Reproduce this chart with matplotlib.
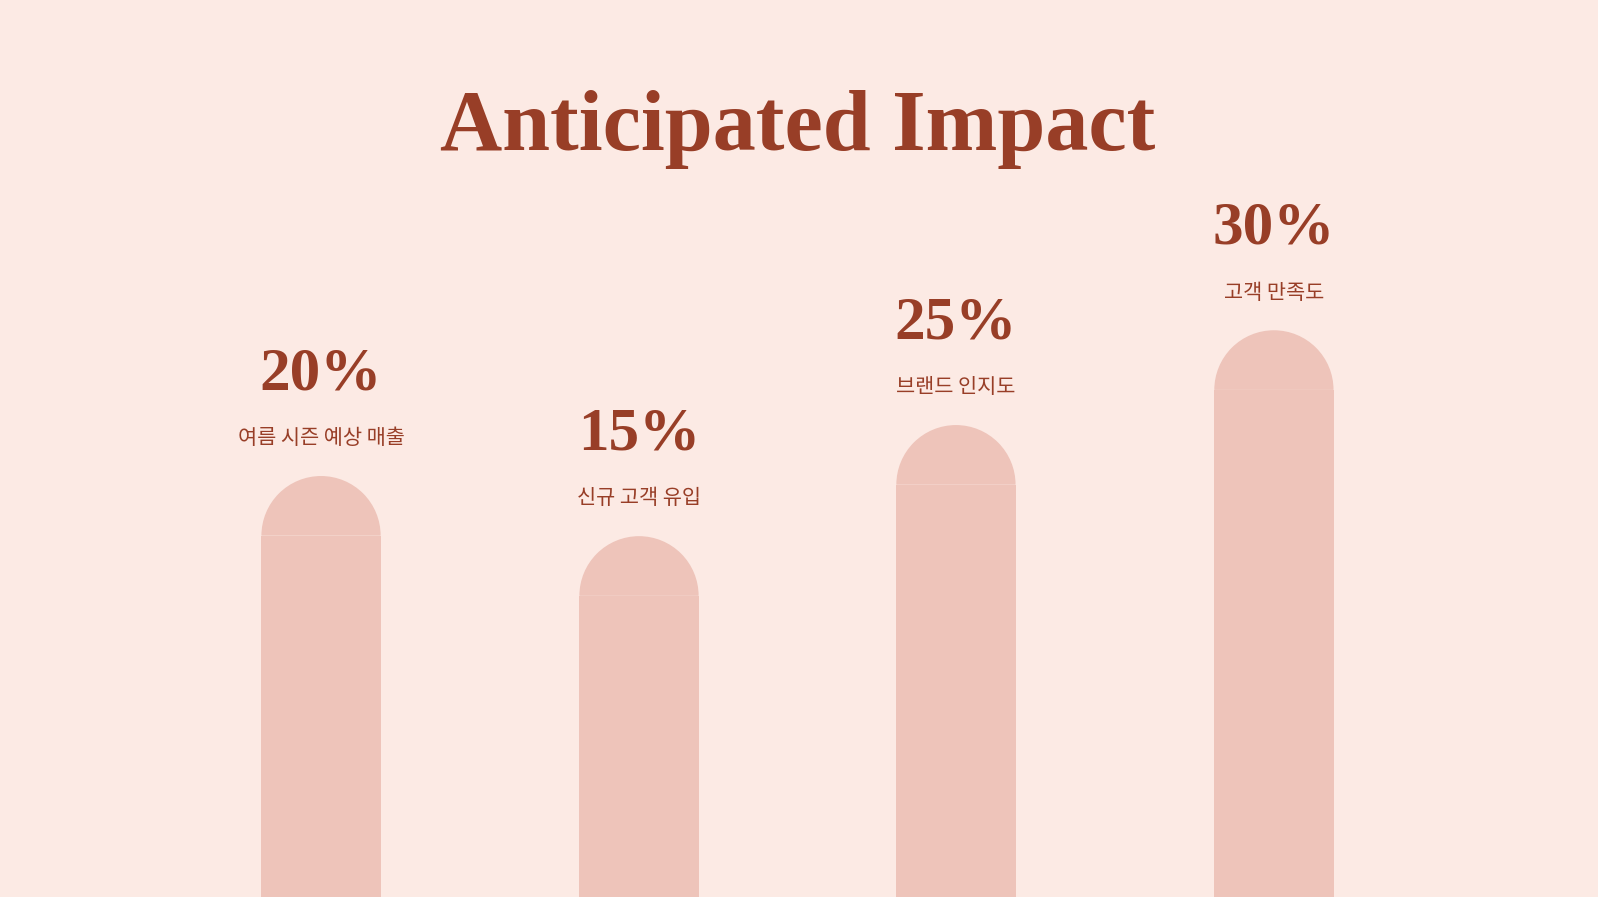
import matplotlib
matplotlib.use("Agg")
import matplotlib.pyplot as plt
from matplotlib.patches import Rectangle, Wedge

categories = ["여름 시즌 예상 매출", "신규 고객 유입", "브랜드 인지도", "고객 만족도"]
values = [20, 15, 25, 30]
bar_levels = [413, 354, 463, 556]  # visual bar heights

BG = "#FCEAE4"; BAR = "#EEC4BA"; TXT = "#983E27"
W, H = 1568, 880
fig = plt.figure(figsize=(15.98, 8.97), dpi=100, facecolor=BG)
ax = fig.add_axes([0, 0, 1, 1]); ax.set_facecolor(BG)
ax.set_xlim(0, W); ax.set_ylim(H, 0); ax.axis("off")

centers = [315, 627, 938, 1250]
bw = 117; r = bw / 2
for c, lvl, v, cat in zip(centers, bar_levels, values, categories):
    top = H - lvl
    ax.add_patch(Rectangle((c - r, top + r), bw, lvl - r, color=BAR, lw=0))
    ax.add_patch(Wedge((c, top + r), r, 180, 360, color=BAR, lw=0))
    ax.text(c, top - 100, f"{v}%", ha="center", va="center", fontsize=44,
            fontweight="bold", family="Liberation Serif", color=TXT)
    ax.text(c, top - 37, cat, ha="center", va="center", fontsize=15,
            family=["Noto Sans CJK KR", "DejaVu Sans"], color=TXT)

ax.text(783, 127, "Anticipated Impact", ha="center", va="center", fontsize=62,
        fontweight="bold", family="Liberation Serif", color=TXT)
fig.savefig("out.png", dpi=100, facecolor=BG)
